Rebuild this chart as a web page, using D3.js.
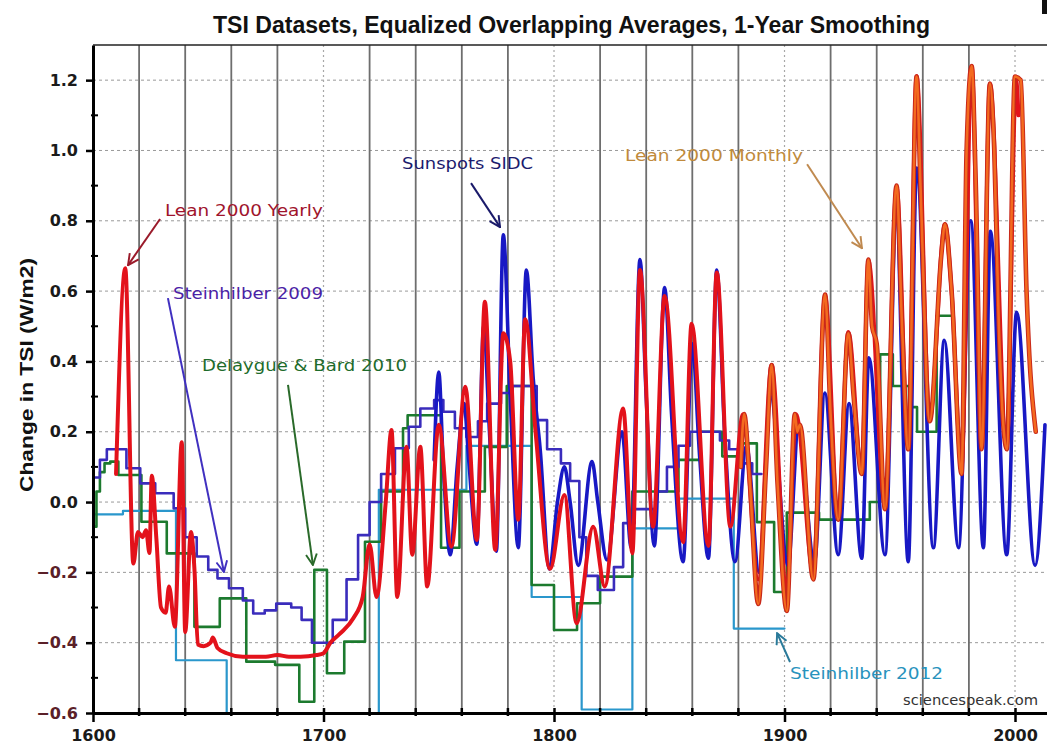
<!DOCTYPE html>
<html>
<head>
<meta charset="utf-8">
<script src="https://cdn.jsdelivr.net/npm/d3@7"></script>
<style>
body { margin: 0; background: #fff; }
svg { display: block; }
</style>
</head>
<body>
<svg id="chart" width="1047" height="745"></svg>
<script>
// ---- data (year, change in TSI W/m2) ----
const xTickYears = [1600, 1700, 1800, 1900, 2000]
const yTickValues = [-0.6, -0.4, -0.2, 0.0, 0.2, 0.4, 0.6, 0.8, 1.0, 1.2]
const yMinorValues = [-0.5, -0.3, -0.1, 0.1, 0.3, 0.5, 0.7, 0.9, 1.1]

// stepped reconstructions: [start year, value]
const steinhilber2012 = [
	[1600, -0.035], [1613, -0.025], [1636, -0.45], [1658, -0.75], [1724, 0.035],
	[1762, 0.16], [1790.3, -0.27], [1812, -0.59], [1834, -0.075], [1854, 0.01],
	[1878, -0.36], [1900, -0.36]
]

const delaygueBard2010 = [
	[1600, -0.07], [1601.5, 0.03], [1603, 0.085], [1605, 0.11], [1607.5, 0.115], [1611, 0.077],
	[1621, -0.056], [1632, -0.146], [1644, -0.355], [1655, -0.274], [1666.5, -0.454],
	[1679, -0.463], [1689.5, -0.568], [1696, -0.193], [1701.5, -0.487], [1709, -0.397],
	[1718, -0.113], [1725, 0.03], [1734.5, 0.21], [1736.5, 0.247], [1751, -0.13],
	[1759, 0.03], [1770, 0.157], [1779.5, 0.33], [1790.3, -0.236], [1800, -0.364],
	[1810, -0.288], [1820, -0.212], [1834, 0.03], [1854, 0.12], [1863, 0.2],
	[1873, 0.13], [1880, 0.167], [1888, -0.057], [1895.5, -0.256], [1901, -0.03],
	[1915, -0.05], [1937, 0.0], [1941.5, 0.42], [1947, 0.33], [1954, 0.27],
	[1957.5, 0.2], [1966, 0.53], [1973, 0.53]
]

const steinhilber2009 = [
	[1600, 0.07], [1603, 0.12], [1606, 0.15], [1614.5, 0.096], [1620.5, 0.053],
	[1627, 0.025], [1635, -0.018], [1640, -0.1], [1645, -0.155], [1650, -0.193],
	[1654, -0.217], [1659, -0.245], [1665, -0.28], [1669.5, -0.317], [1674.5, -0.308],
	[1679.5, -0.289], [1686, -0.3], [1690.5, -0.335], [1695, -0.4], [1704, -0.335],
	[1710, -0.22], [1715, -0.094], [1720, 0.0], [1725, 0.08], [1731, 0.153],
	[1737, 0.214], [1742, 0.266], [1748, 0.29], [1752, 0.257], [1757, 0.21],
	[1762, 0.185], [1767, 0.23], [1771, 0.28], [1777, 0.31], [1782, 0.33],
	[1792.5, 0.233], [1797, 0.15], [1803, 0.11], [1807, 0.06], [1811, -0.1],
	[1814, -0.21], [1819, -0.25], [1826, -0.185], [1830, -0.06], [1835, -0.02],
	[1844, 0.03], [1849, 0.1], [1854, 0.16], [1859, 0.2], [1872, 0.175],
	[1876, 0.15], [1881, 0.11], [1886, 0.08], [1890, 0.08]
]

// continuous series: [year, value]
const sunspotsSIDC = [
	[1748, 0.12], [1750, 0.37], [1752, 0.1], [1755, -0.15], [1758, 0.1], [1761, 0.28],
	[1763, 0.12], [1766.5, -0.12], [1769.5, 0.5], [1772, 0.2], [1775, -0.14], [1778, 0.76],
	[1781, 0.3], [1784.5, -0.13], [1788, 0.66], [1791, 0.35], [1794, 0.15], [1798, -0.19],
	[1801.5, 0.0], [1804.5, 0.1], [1807, 0.0], [1810.5, -0.18], [1816.5, 0.115], [1819, 0.0],
	[1823, -0.165], [1829.5, 0.2], [1833.5, -0.13], [1837.3, 0.69], [1840, 0.3],
	[1843.5, -0.125], [1848, 0.61], [1851, 0.25], [1856, -0.17], [1860, 0.45], [1863, 0.15],
	[1867, -0.16], [1870.6, 0.66], [1874, 0.2], [1878.5, -0.17], [1883.5, 0.16], [1889, -0.2],
	[1894, 0.3], [1901.5, -0.18], [1906, 0.2], [1913, -0.17], [1917.5, 0.31], [1923.3, -0.15],
	[1928, 0.28], [1933.5, -0.16], [1936.6, 0.41], [1943.6, -0.15], [1948.5, 0.8],
	[1953.7, -0.17], [1957.3, 0.95], [1964.6, -0.13], [1969.3, 0.46], [1975.5, -0.13],
	[1980.8, 0.8], [1986.3, -0.13], [1989.3, 0.77], [1996.4, -0.15], [2000.7, 0.54],
	[2008.7, -0.18], [2013, 0.22]
]

const lean2000Yearly = [
	[1610, 0.08], [1614, 0.665], [1617.5, -0.175], [1619.5, -0.085], [1621.5, -0.1],
	[1623, -0.08], [1624.5, -0.145], [1625.5, 0.075], [1627.5, -0.105], [1629.5, -0.3],
	[1631.5, -0.315], [1633, -0.24], [1635.5, -0.355], [1638.5, 0.17], [1640, -0.37],
	[1642.5, -0.085], [1644, -0.19], [1645.5, -0.405], [1648, -0.41], [1651, -0.4],
	[1652, -0.385], [1654, -0.415], [1658, -0.43], [1665, -0.44], [1675, -0.44],
	[1680, -0.435], [1685, -0.44], [1690, -0.44], [1697, -0.435], [1700, -0.43],
	[1703, -0.4], [1707, -0.375], [1713, -0.33], [1717, -0.27], [1720, -0.12],
	[1723, -0.27], [1727, 0.0], [1729.5, 0.205], [1732, -0.27], [1736, 0.157],
	[1738.5, -0.15], [1742, 0.157], [1745, -0.24], [1750, 0.22], [1755.5, -0.127],
	[1761.5, 0.328], [1766.5, -0.108], [1770, 0.57], [1774.5, -0.136], [1778, 0.48],
	[1781, 0.4], [1784.5, -0.05], [1787.5, 0.52], [1792, 0.2], [1798.3, -0.19],
	[1804.5, 0.02], [1809.8, -0.345], [1817, -0.07], [1822, -0.24], [1830, 0.266],
	[1834, -0.146], [1837.3, 0.66], [1843, -0.07], [1848, 0.586], [1856, -0.114],
	[1859.7, 0.507], [1867, -0.125], [1870.6, 0.653], [1876.5, -0.07], [1882, 0.25],
	[1888.6, -0.22], [1894.4, 0.39], [1901, -0.25], [1905, 0.25], [1912.5, -0.2],
	[1917.6, 0.586], [1923.3, -0.046], [1927.7, 0.484], [1933.5, 0.09], [1936.4, 0.687],
	[1943.6, -0.01], [1948.6, 0.896], [1953.7, 0.157], [1957.3, 1.212], [1963, 0.236],
	[1969.6, 0.79], [1972.5, 0.6], [1976.8, 0.1], [1981.2, 1.24], [1985.5, 0.157],
	[1989.1, 1.19], [1996.4, 0.157], [2000.5, 1.2], [2001.5, 1.1]
]

const lean2000Monthly = [
	[1881, 0.1], [1882.5, 0.25], [1885, 0.05], [1888.6, -0.29], [1892, 0.1], [1894.4, 0.39],
	[1897, 0.05], [1901, -0.31], [1904.5, 0.25], [1905.5, 0.2], [1906.7, 0.22],
	[1912.5, -0.22], [1917.6, 0.59], [1920, 0.25], [1923.3, -0.05], [1927.7, 0.48],
	[1930, 0.3], [1933.5, 0.08], [1936.4, 0.69], [1938, 0.5], [1940, 0.45], [1943.6, -0.02],
	[1948.6, 0.9], [1951, 0.5], [1953.7, 0.15], [1957.3, 1.21], [1959, 0.9], [1963, 0.23],
	[1968, 0.7], [1969.6, 0.79], [1972.5, 0.6], [1976.8, 0.08], [1979, 1.0], [1981.2, 1.24],
	[1983, 0.9], [1985.5, 0.15], [1989.1, 1.19], [1991, 1.0], [1993, 0.5], [1996.4, 0.15],
	[2000, 1.21], [2002.5, 1.2], [2005, 0.6], [2009, 0.2]
]

// labels sitting in the plot, placed in data units
const annotations = [
	{ text: 'Lean 2000 Yearly', color: '#a0142c', arrow: '#9a1a2a', at: [1631.2, 0.813], len: 158, from: [1629.1, 0.805], to: [1615.2, 0.674] },
	{ text: 'Steinhilber 2009', color: '#4b22a6', arrow: '#4030c0', at: [1634.7, 0.577], len: 150, from: [1632.5, 0.58], to: [1656.8, -0.199] },
	{ text: 'Delaygue & Bard 2010', color: '#1d6b2b', arrow: '#2a6a2a', at: [1647.3, 0.373], len: 205, from: [1684.6, 0.333], to: [1695.4, -0.179] },
	{ text: 'Sunspots SIDC', color: '#1b1b6e', arrow: '#1a1a6a', at: [1734.1, 0.947], len: 131, from: [1764, 0.907], to: [1776.6, 0.782] },
	{ text: 'Lean 2000 Monthly', color: '#c08a3c', arrow: '#c08a50', at: [1830.8, 0.97], len: 178, from: [1909.8, 0.961], to: [1933.6, 0.722] },
	{ text: 'Steinhilber 2012', color: '#2893bd', arrow: '#2a7a9a', at: [1902.4, -0.503], len: 153, from: [1902.4, -0.455], to: [1896.8, -0.373] }
]

// ---- layout ----
const svg = d3.select('#chart')
const plotLeft = 93
const plotRight = 1047
const plotTop = 45
const plotBottom = 713

const xScale = d3.scaleLinear()
	.domain([1600, 2013.88])
	.range([plotLeft, plotRight])

const yScale = d3.scaleLinear()
	.domain([-0.6, 1.3])
	.range([plotBottom, plotTop])

const defs = svg.append('defs')

defs.append('clipPath')
		.attr('id', 'plot')
	.append('rect')
		.attr('x', plotLeft)
		.attr('y', plotTop)
		.attr('width', plotRight - plotLeft)
		.attr('height', plotBottom - plotTop)

// title
svg.append('text')
	.attr('x', 213)
	.attr('y', 33)
	.attr('textLength', 717)
	.attr('lengthAdjust', 'spacingAndGlyphs')
	.style('font-family', '"Liberation Sans", Arial, sans-serif')
	.style('font-weight', 'bold')
	.style('font-size', '23px')
	.style('fill', '#111')
	.text('TSI Datasets, Equalized Overlapping Averages, 1-Year Smoothing')

// little black corner mark top right
svg.append('rect')
	.attr('x', 1042).attr('y', 0).attr('width', 5).attr('height', 14)
	.style('fill', '#111')

// gridlines
const grid = svg.append('g')

grid.selectAll('line.hgrid')
	.data(yTickValues.filter(v => v > -0.6))
	.enter()
	.append('line')
		.attr('class', 'hgrid')
		.attr('x1', plotLeft)
		.attr('x2', plotRight)
		.attr('y1', d => yScale(d))
		.attr('y2', d => yScale(d))
		.style('stroke', '#9a9a9a')
		.style('stroke-width', 1)
		.style('stroke-dasharray', '3,3')

const gridYears = d3.range(1620, 2013, 20).filter(d => d % 100 !== 0)

grid.selectAll('line.vgrid')
	.data(gridYears)
	.enter()
	.append('line')
		.attr('class', 'vgrid')
		.attr('x1', d => xScale(d))
		.attr('x2', d => xScale(d))
		.attr('y1', plotTop)
		.attr('y2', plotBottom)
		.style('stroke', '#6e6e6e')
		.style('stroke-width', 1.8)

grid.selectAll('line.cgrid')
	.data(xTickYears.filter(d => d > 1600))
	.enter()
	.append('line')
		.attr('class', 'cgrid')
		.attr('x1', d => xScale(d))
		.attr('x2', d => xScale(d))
		.attr('y1', plotTop)
		.attr('y2', plotBottom)
		.style('stroke', '#a8a8a8')
		.style('stroke-width', 1.2)
		.style('stroke-dasharray', '2,3')

// top frame line
svg.append('line')
	.attr('x1', plotLeft).attr('x2', plotRight)
	.attr('y1', plotTop).attr('y2', plotTop)
	.style('stroke', '#222')
	.style('stroke-width', 1.5)

// ---- series ----
const plot = svg.append('g').attr('clip-path', 'url(#plot)')

const stepLine = d3.line()
	.x(d => xScale(d[0]))
	.y(d => yScale(d[1]))
	.curve(d3.curveStepAfter)

const smoothLine = d3.line()
	.x(d => xScale(d[0]))
	.y(d => yScale(d[1]))
	.curve(d3.curveMonotoneX)

const drawSeries = (data, gen, color, w) => {
	plot.append('path')
		.datum(data)
		.attr('d', gen)
		.style('fill', 'none')
		.style('stroke', color)
		.style('stroke-width', w)
		.style('stroke-linejoin', 'round')
		.style('stroke-linecap', 'round')
}

drawSeries(steinhilber2012, stepLine, '#2a97cc', 2.2)
drawSeries(delaygueBard2010, stepLine, '#1c7a2e', 2.6)
drawSeries(steinhilber2009, stepLine, '#3a2cbc', 2.6)
drawSeries(sunspotsSIDC, smoothLine, '#1818c4', 3.6)
drawSeries(lean2000Yearly, smoothLine, '#e3121b', 4)
drawSeries(lean2000Monthly, smoothLine, '#c8281a', 4.6)
drawSeries(lean2000Monthly, smoothLine, '#f46a1f', 2.6)

// ---- axes ----
const yAxis = d3.axisLeft(yScale)
	.tickValues(yTickValues)
	.tickFormat(d3.format('.1f'))
	.tickSize(7)
	.tickSizeOuter(0)
	.tickPadding(8)

const yAxisG = svg.append('g')
	.attr('transform', `translate(${plotLeft}, 0)`)
	.call(yAxis)

yAxisG.select('path.domain')
	.style('stroke', '#000')
	.style('stroke-width', 3)

yAxisG.selectAll('.tick line')
	.style('stroke', '#000')
	.style('stroke-width', 2.5)

yAxisG.selectAll('.tick text')
	.style('font-family', '"DejaVu Sans", Verdana, sans-serif')
	.style('font-weight', 'bold')
	.style('font-size', '16px')
	.style('fill', d => d < 0 ? '#5a2028' : '#1a1a1a')

svg.append('g')
	.selectAll('line')
	.data(yMinorValues)
	.enter()
	.append('line')
		.attr('x1', plotLeft - 2)
		.attr('x2', plotLeft + 5)
		.attr('y1', d => yScale(d))
		.attr('y2', d => yScale(d))
		.style('stroke', '#000')
		.style('stroke-width', 2)

const xAxis = d3.axisBottom(xScale)
	.tickValues(xTickYears)
	.tickFormat(d3.format('d'))
	.tickSize(9)
	.tickSizeOuter(0)
	.tickPadding(8)

const xAxisG = svg.append('g')
	.attr('transform', `translate(0, ${plotBottom})`)
	.call(xAxis)

xAxisG.select('path.domain')
	.style('stroke', '#000')
	.style('stroke-width', 3)

xAxisG.selectAll('.tick line')
	.attr('y1', -5)
	.style('stroke', '#000')
	.style('stroke-width', 2.5)

xAxisG.selectAll('.tick text')
	.style('font-family', '"DejaVu Sans", Verdana, sans-serif')
	.style('font-weight', 'bold')
	.style('font-size', '16px')
	.style('fill', '#1a1a1a')

// small ticks where the 20-year gridlines meet the axis
svg.append('g')
	.selectAll('line')
	.data(gridYears)
	.enter()
	.append('line')
		.attr('x1', d => xScale(d))
		.attr('x2', d => xScale(d))
		.attr('y1', plotBottom - 5)
		.attr('y2', plotBottom + 3)
		.style('stroke', '#000')
		.style('stroke-width', 2.5)

// y label
svg.append('text')
	.attr('transform', 'rotate(-90)')
	.attr('x', -375)
	.attr('y', 33)
	.attr('text-anchor', 'middle')
	.attr('textLength', 234)
	.attr('lengthAdjust', 'spacingAndGlyphs')
	.style('font-family', '"Liberation Sans", Arial, sans-serif')
	.style('font-weight', 'bold')
	.style('font-size', '18px')
	.style('fill', '#111')
	.text('Change in TSI (W/m2)')

// ---- annotations ----
annotations.forEach((a, i) => {
	defs.append('marker')
		.attr('id', 'head' + i)
		.attr('viewBox', '0 0 12 12')
		.attr('refX', 11)
		.attr('refY', 6)
		.attr('markerWidth', 13)
		.attr('markerHeight', 13)
		.attr('markerUnits', 'userSpaceOnUse')
		.attr('orient', 'auto')
		.append('path')
			.attr('d', 'M 1 1 L 11 6 L 1 11')
			.style('fill', 'none')
			.style('stroke', a.arrow)
			.style('stroke-width', 1.8)

	svg.append('line')
		.attr('x1', xScale(a.from[0]))
		.attr('y1', yScale(a.from[1]))
		.attr('x2', xScale(a.to[0]))
		.attr('y2', yScale(a.to[1]))
		.style('stroke', a.arrow)
		.style('stroke-width', 2)
		.attr('marker-end', `url(#head${i})`)

	svg.append('text')
		.attr('x', xScale(a.at[0]))
		.attr('y', yScale(a.at[1]))
		.attr('textLength', a.len)
		.attr('lengthAdjust', 'spacingAndGlyphs')
		.style('font-family', '"DejaVu Sans", Verdana, sans-serif')
		.style('font-size', '16px')
		.style('fill', a.color)
		.text(a.text)
})

svg.append('text')
	.attr('x', 1038)
	.attr('y', 705)
	.attr('text-anchor', 'end')
	.attr('textLength', 135)
	.attr('lengthAdjust', 'spacingAndGlyphs')
	.style('font-family', '"DejaVu Sans", Verdana, sans-serif')
	.style('font-size', '14px')
	.style('fill', '#333')
	.text('sciencespeak.com')
</script>
</body>
</html>
